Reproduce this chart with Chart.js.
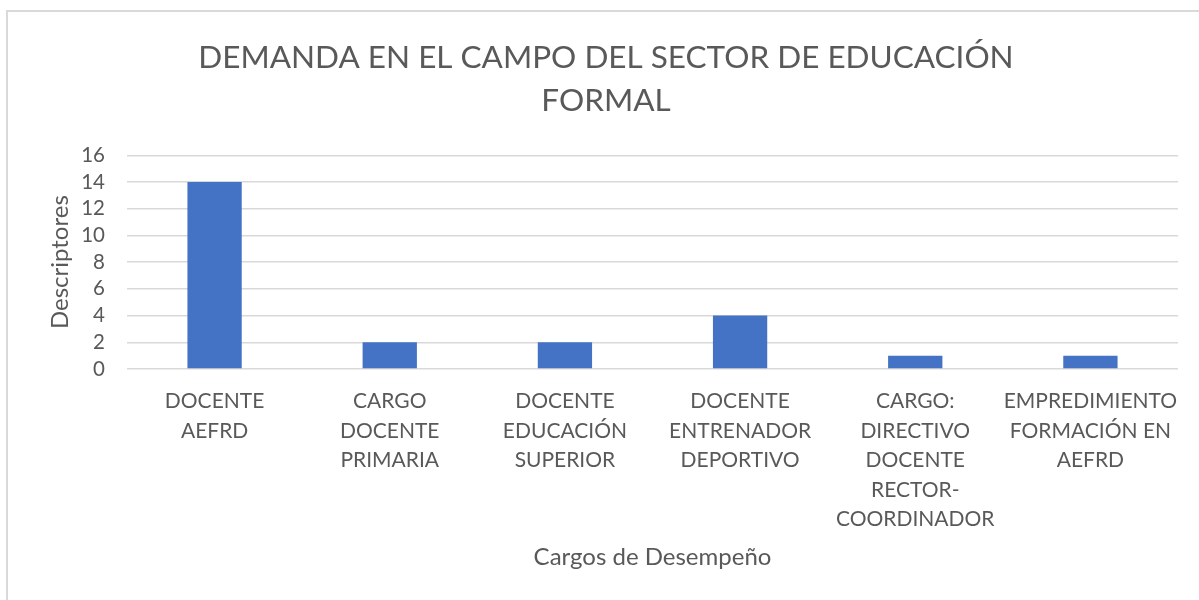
<!DOCTYPE html>
<html>
<head>
<meta charset="utf-8">
<script src="https://cdn.jsdelivr.net/npm/chart.js@4"></script>
<style>
  html, body { margin: 0; padding: 0; background: #fff; overflow: hidden; width: 1199px; height: 600px; }
  #frame { position: absolute; left: 6px; top: 10px; width: 1260px; height: 660px; border: 2px solid #d9d9d9; box-sizing: border-box; }
  #wrap { position: absolute; left: 7px; top: 11px; width: 1198px; height: 600px; }
</style>
</head>
<body>
<div id="frame"></div>
<div id="wrap"><canvas id="c" width="1198" height="600"></canvas></div>
<script>
const titleLines = ["DEMANDA EN EL CAMPO DEL SECTOR DE EDUCACIÓN", "FORMAL"];
const categories = [
  ["DOCENTE", "AEFRD"],
  ["CARGO", "DOCENTE", "PRIMARIA"],
  ["DOCENTE", "EDUCACIÓN", "SUPERIOR"],
  ["DOCENTE", "ENTRENADOR", "DEPORTIVO"],
  ["CARGO:", "DIRECTIVO", "DOCENTE", "RECTOR-", "COORDINADOR"],
  ["EMPREDIMIENTO", "FORMACIÓN EN", "AEFRD"]
];
const descriptores = [14, 2, 2, 4, 1, 1];
const yTicks = [0, 2, 4, 6, 8, 10, 12, 14, 16];
const xAxisTitle = "Cargos de Desempeño";
const yAxisTitle = "Descriptores";

const FONT = "Lato, 'Open Sans', sans-serif";
const GREY = "#595959";

new Chart(document.getElementById("c"), {
  type: "bar",
  data: {
    labels: categories,
    datasets: [{
      label: yAxisTitle,
      data: descriptores,
      backgroundColor: "#4472C4",
      borderWidth: 0,
      barPercentage: 0.31,
      categoryPercentage: 1.0
    }]
  },
  options: {
    responsive: false,
    animation: false,
    devicePixelRatio: 1,
    layout: { padding: { left: 27, right: 27, top: 0, bottom: 0 } },
    plugins: {
      legend: { display: false },
      tooltip: { enabled: false },
      title: {
        display: true,
        text: titleLines,
        color: GREY,
        font: { family: FONT, size: 31.5, weight: "normal", lineHeight: 1.37 },
        padding: { top: 25, bottom: 33 }
      }
    },
    scales: {
      x: {
        grid: { display: false, drawTicks: false },
        border: { display: false },
        ticks: {
          color: GREY,
          font: { family: FONT, size: 21, lineHeight: 1.4 },
          padding: 18,
          maxRotation: 0,
          autoSkip: false
        },
        title: {
          display: true,
          text: xAxisTitle,
          color: GREY,
          font: { family: FONT, size: 24, lineHeight: 1.2 },
          padding: { top: 0, bottom: 39.5 }
        },
        afterFit: (s) => { s.height = 242; }
      },
      y: {
        min: 0,
        max: 16,
        afterBuildTicks: (s) => { s.ticks = yTicks.map(v => ({ value: v })); },
        grid: { color: "#d9d9d9", lineWidth: 1.5, drawTicks: false },
        border: { display: false },
        ticks: {
          color: GREY,
          font: { family: FONT, size: 20.5, lineHeight: 1 },
          padding: 22,
          autoSkip: false
        },
        title: {
          display: true,
          text: yAxisTitle,
          color: GREY,
          font: { family: FONT, size: 24, lineHeight: 1.2 },
          padding: { top: 11.5, bottom: 0 }
        },
        afterFit: (s) => { s.width = 93; }
      }
    }
  }
});
</script>
</body>
</html>
